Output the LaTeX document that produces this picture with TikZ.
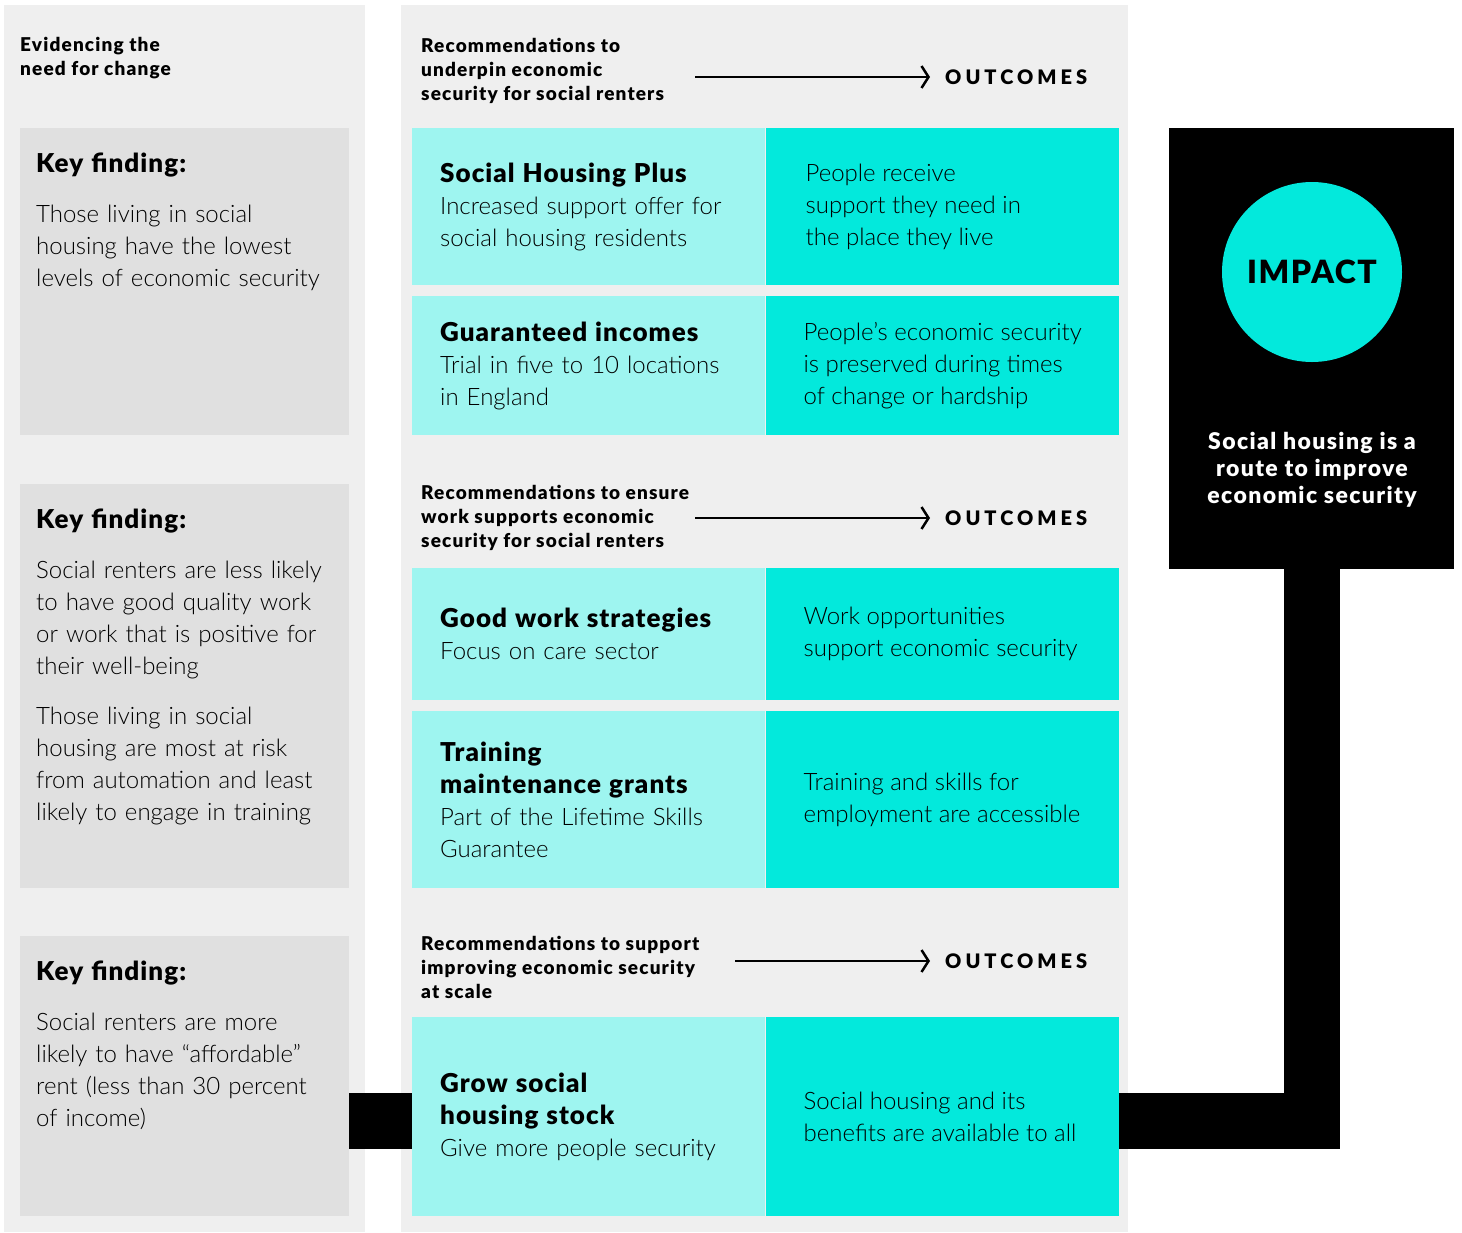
\documentclass[tikz,border=0pt]{standalone}
\usepackage{fontspec}
\setmainfont{Lato Light}[BoldFont={Lato Bold}]
\newfontfamily\heavy{Lato Black}
\usetikzlibrary{positioning, arrows.meta}
\definecolor{colgrey}{HTML}{EFEFEF}
\definecolor{keygrey}{HTML}{E0E0E0}
\definecolor{palecyan}{HTML}{9EF5F0}
\definecolor{deepcyan}{HTML}{03E9DC}
\newcommand{\rowhead}[1]{{\heavy\fontsize{26}{32}\selectfont\addfontfeature{LetterSpace=4}#1}}
\newcommand{\keyfinding}{\rowhead{Key finding:}}

\begin{document}
\begin{tikzpicture}[x=1pt, y=-1pt,
    every node/.style={inner sep=0pt, font=\fontsize{24}{32}\selectfont},
    keybox/.style={fill=keygrey, anchor=north west, minimum width=329pt},
    keytext/.style={align=left, text width=305pt, below right=25pt and 16pt of #1.north west},
    leftcell/.style={fill=palecyan, anchor=north west, minimum width=353pt,
        text width=297pt, inner xsep=28pt, align=left},
    rightcell/.style={fill=deepcyan, minimum width=353pt},
    outtext/.style={anchor=west, align=left},
    rechead/.style={anchor=north west, align=left,
        font=\heavy\fontsize{19}{24}\selectfont\addfontfeature{LetterSpace=6}},
    outc/.style={anchor=west, font=\heavy\fontsize{20}{20}\selectfont\addfontfeature{LetterSpace=20}},
    arr/.style={line width=2.5pt, -{Straight Barb[length=7pt, width=22pt]}},
    link/.style={line width=56pt}]
    \useasboundingbox (0,0) rectangle (1462,1232);
    \fill[colgrey] (4,5) rectangle (365,1232);
    \fill[colgrey] (401,5) rectangle (1128,1232);

    \node[rechead] (evid) at (20,37) {Evidencing the\\ need for change};

    \node[keybox, minimum height=307pt] (kf1) at (20,128) {};
    \node[keytext=kf1] (kt1) {\keyfinding\\[18pt]
        Those living in social\\ housing have the lowest\\ levels of economic security};
    \node[keybox, minimum height=404pt] (kf2) at (20,484) {};
    \node[keytext=kf2] (kt2) {\keyfinding\\[18pt]
        Social renters are less likely\\ to have good quality work\\ or work that is positive for\\ their well-being\\[18pt]
        Those living in social\\ housing are most at risk\\ from automation and least\\ likely to engage in training};
    \node[keybox, minimum height=280pt] (kf3) at (20,936) {};
    \node[keytext=kf3] (kt3) {\keyfinding\\[18pt]
        Social renters are more\\ likely to have “affordable”\\ rent (less than 30 percent\\ of income)};

    \node[rechead] (rec1) at (421,38) {Recommendations to\\ underpin economic\\ security for social renters};
    \node[outc] (oc1) at (945,77) {OUTCOMES};
    \coordinate (from1) at (695,77);
    \draw[arr] (from1) -- ([xshift=-15pt]oc1.west);

    \node[leftcell, minimum height=157pt] (shp) at (412,128) {\rowhead{Social Housing Plus}\\
        Increased support offer for\\ social housing residents};
    \node[rightcell, minimum height=157pt, right=0pt of shp] (shpout) {};
    \node[outtext] at ([xshift=40pt]shpout.west) {People receive\\ support they need in\\ the place they live};
    \node[leftcell, minimum height=139pt] (gi) at (412,296) {\rowhead{Guaranteed incomes}\\
        Trial in five to 10 locations\\ in England};
    \node[rightcell, minimum height=139pt, right=0pt of gi] (giout) {};
    \node[outtext] at ([xshift=38pt]giout.west) {People’s economic security\\ is preserved during times\\ of change or hardship};

    \node[rechead] (rec2) at (421,485) {Recommendations to ensure\\ work supports economic\\ security for social renters};
    \node[outc] (oc2) at (945,518) {OUTCOMES};
    \coordinate (from2) at (695,518);
    \draw[arr] (from2) -- ([xshift=-15pt]oc2.west);

    \node[leftcell, minimum height=132pt] (gw) at (412,568) {\rowhead{Good work strategies}\\
        Focus on care sector};
    \node[rightcell, minimum height=132pt, right=0pt of gw] (gwout) {};
    \node[outtext] at ([xshift=38pt]gwout.west) {Work opportunities\\ support economic security};
    \node[leftcell, minimum height=177pt] (tmg) at (412,711) {\rowhead{Training\\ maintenance grants}\\
        Part of the Lifetime Skills\\ Guarantee};
    \node[rightcell, minimum height=177pt, right=0pt of tmg] (tmgout) {};
    \node[outtext] at ([xshift=38pt]tmgout.west) {Training and skills for\\ employment are accessible};

    \node[rechead] (rec3) at (421,936) {Recommendations to support\\ improving economic security\\ at scale};
    \node[outc] (oc3) at (945,961) {OUTCOMES};
    \coordinate (from3) at (735,961);
    \draw[arr] (from3) -- ([xshift=-15pt]oc3.west);

    \node[leftcell, minimum height=199pt] (gsh) at (412,1017) {\rowhead{Grow social\\ housing stock}\\
        Give more people security};
    \node[rightcell, minimum height=199pt, right=0pt of gsh] (gshout) {};
    \node[outtext] at ([xshift=38pt]gshout.west) {Social housing and its\\ benefits are available to all};

    \node[fill=black, anchor=north west, minimum width=285pt, minimum height=441pt] (impact) at (1169,128) {};
    \node[circle, fill=deepcyan, minimum size=180pt,
        font=\heavy\fontsize{32}{32}\selectfont\addfontfeature{LetterSpace=5}] (imp) at (1312,272) {IMPACT};
    \node[text=white, align=center,
        font=\heavy\fontsize{23}{27}\selectfont\addfontfeature{LetterSpace=6}] (route) at (1312,470)
        {Social housing is a\\ route to improve\\ economic security};

    \draw[link] ([yshift=-4.5pt]gsh.west -| kf3.east) -- ([yshift=-4.5pt]gsh.west);
    \draw[link] ([yshift=-4.5pt]gshout.east) -| (impact.south);
\end{tikzpicture}
\end{document}
